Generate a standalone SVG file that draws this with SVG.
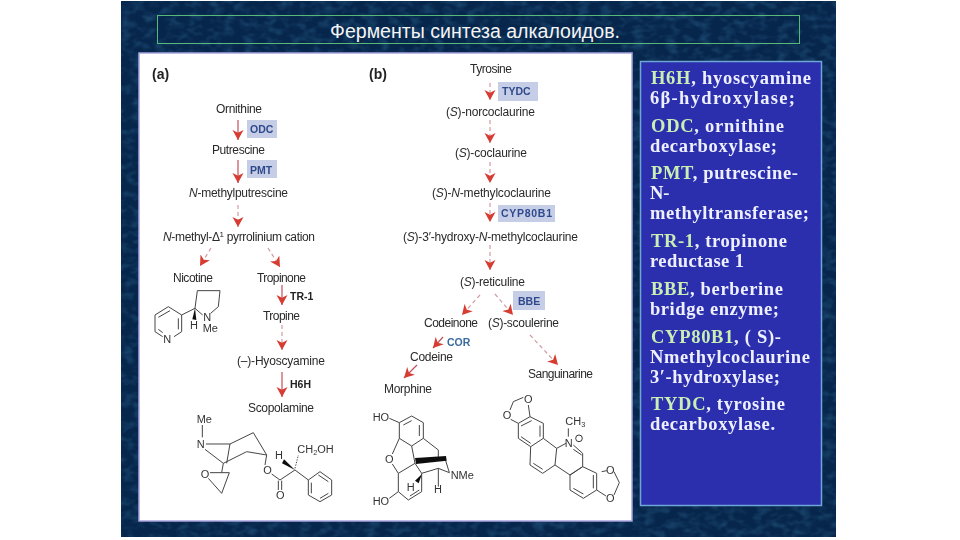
<svg xmlns="http://www.w3.org/2000/svg" width="960" height="540" viewBox="0 0 960 540">
<defs>
<marker id="ah" markerUnits="userSpaceOnUse" markerWidth="12" markerHeight="12" refX="10" refY="5.500" orient="auto"><path d="M0 0L10 5.500L0 11L2.800 5.500Z" fill="#d63c32"/></marker>
<filter id="tex" x="0" y="0" width="100%" height="100%"><feTurbulence type="fractalNoise" baseFrequency="0.09 0.14" numOctaves="2" seed="4"/><feColorMatrix values="0 0 0 0 0.05  0 0 0 0 0.25  0 0 0 0 0.45  0 0 0 0.7 -0.3"/></filter>
<filter id="soft" x="-5%" y="-5%" width="110%" height="110%"><feGaussianBlur stdDeviation="0.35"/></filter>
</defs>
<style>
.l{font-family:"Liberation Sans",Arial,sans-serif;font-size:12px;fill:#2a2a2a}
.i{font-style:italic}
.e{font-family:"Liberation Sans",Arial,sans-serif;font-size:10.5px;font-weight:bold;fill:#2f4a8c}
.b{fill:#c6cde6}
.k{font-family:"Liberation Sans",Arial,sans-serif;font-size:10.5px;font-weight:bold;fill:#222}
.p{font-family:"Liberation Sans",Arial,sans-serif;font-size:14px;font-weight:bold;fill:#222}
.a{stroke:#c4505c;stroke-width:1.2;fill:none;marker-end:url(#ah)}
.d{stroke:#d29aa0;stroke-width:1.2;fill:none;stroke-dasharray:4 3;marker-end:url(#ah)}
.m path{fill:none;stroke:#444;stroke-width:3}
.m .w{fill:#111;stroke:none}
.m text{font-family:"Liberation Sans",Arial,sans-serif;font-size:33px;fill:#333}
.t{font-family:"Liberation Serif","Times New Roman",serif;font-size:18.5px;font-weight:bold;fill:#eef0ff}
.g{fill:#c9efb4}
</style>
<rect width="960" height="540" fill="#fff"/>
<g id="slide">
<rect x="121" y="1" width="715" height="536" fill="#07264c"/>
<rect x="121" y="1" width="715" height="536" filter="url(#tex)"/>
</g>
<g id="title">
<rect x="157.500" y="15.500" width="642" height="28" fill="none" stroke="#58b878"/>
<text x="330" y="38" font-family="'Liberation Sans',Arial,sans-serif" font-size="19.5" fill="#f4f4f4" textLength="290" lengthAdjust="spacingAndGlyphs">Ферменты синтеза алкалоидов.</text>
</g>
<rect id="figure-panel" x="139" y="53" width="493" height="468" fill="#fff" stroke="#a9a4de" stroke-width="1.500"/>
<g id="legend-panel">
<rect x="640.500" y="61.500" width="181" height="444" fill="#2b2fae" stroke="#6fa6d8" stroke-width="1.500"/>
<g filter="url(#soft)">
<text class="t" x="651" y="84" textLength="160"><tspan class="g">H6H</tspan>, hyoscyamine</text>
<text class="t" x="650" y="104" textLength="145">6β-hydroxylase;</text>
<text class="t" x="651" y="132" textLength="133"><tspan class="g">ODC</tspan>, ornithine</text>
<text class="t" x="650" y="152" textLength="127">decarboxylase;</text>
<text class="t" x="651" y="179" textLength="147"><tspan class="g">PMT</tspan>, putrescine-</text>
<text class="t" x="650" y="199">N-</text>
<text class="t" x="650" y="219" textLength="159">methyltransferase;</text>
<text class="t" x="651" y="247" textLength="136"><tspan class="g">TR-1</tspan>, tropinone</text>
<text class="t" x="650" y="267" textLength="94">reductase 1</text>
<text class="t" x="651" y="295" textLength="132"><tspan class="g">BBE</tspan>, berberine</text>
<text class="t" x="650" y="315" textLength="129">bridge enzyme;</text>
<text class="t" x="651" y="343" textLength="130"><tspan class="g">CYP80B1</tspan>, ( S)-</text>
<text class="t" x="650" y="363" textLength="160">Nmethylcoclaurine</text>
<text class="t" x="650" y="383" textLength="130">3′-hydroxylase;</text>
<text class="t" x="651" y="410" textLength="134"><tspan class="g">TYDC</tspan>, tyrosine</text>
<text class="t" x="650" y="430" textLength="125">decarboxylase.</text>
</g>
</g>
<g id="connectors">
<path class="a" d="M238 120V140"/>
<path class="a" d="M238 160V183"/>
<path class="d" d="M238 205V227"/>
<path class="d" d="M211 248L200 266"/>
<path class="d" d="M268 248L280 267"/>
<path class="a" d="M282 285V305"/>
<path class="d" d="M282 325V350"/>
<path class="a" d="M282 372V397"/>
<path class="d" d="M490 83V100"/>
<path class="d" d="M490 120V143"/>
<path class="d" d="M490 162V183"/>
<path class="d" d="M490 203V222"/>
<path class="d" d="M490 245V270"/>
<path class="d" d="M480 295L462 315"/>
<path class="d" d="M495 294L513 315"/>
<path class="a" d="M443 337L433 348"/>
<path class="a" d="M417 365L404 378"/>
<path class="d" d="M530 335L558 365"/>
</g>
<g id="pathway-a" filter="url(#soft)">
<text class="p" x="152" y="79">(a)</text>
<g id="ornithine"><text class="l" x="216" y="113" textLength="46">Ornithine</text></g>
<g id="odc"><rect class="b" x="247" y="120" width="30" height="18"/><text class="e" x="250" y="133">ODC</text></g>
<g id="putrescine"><text class="l" x="212" y="154" textLength="53">Putrescine</text></g>
<g id="pmt"><rect class="b" x="247" y="160" width="30" height="18"/><text class="e" x="250" y="174">PMT</text></g>
<g id="n-methylputrescine"><text class="l" x="189" y="197" textLength="99"><tspan class="i">N</tspan>-methylputrescine</text></g>
<g id="pyrrolinium"><text class="l" x="163" y="241" textLength="152"><tspan class="i">N</tspan>-methyl-Δ<tspan dy="-4" font-size="8">1</tspan><tspan dy="4"> pyrrolinium cation</tspan></text></g>
<g id="nicotine"><text class="l" x="173" y="282" textLength="40">Nicotine</text></g>
<g id="tropinone"><text class="l" x="257" y="282" textLength="49">Tropinone</text></g>
<g id="tr-1"><text class="k" x="290" y="300">TR-1</text></g>
<g id="tropine"><text class="l" x="263" y="320" textLength="37">Tropine</text></g>
<g id="hyoscyamine"><text class="l" x="237" y="365" textLength="88">(–)-Hyoscyamine</text></g>
<g id="h6h"><text class="k" x="290" y="388">H6H</text></g>
<g id="scopolamine"><text class="l" x="248" y="412" textLength="66">Scopolamine</text></g>
</g>
<g id="pathway-b" filter="url(#soft)">
<text class="p" x="369" y="79">(b)</text>
<g id="tyrosine"><text class="l" x="470" y="73" textLength="42">Tyrosine</text></g>
<g id="tydc"><rect class="b" x="498" y="82" width="40" height="19"/><text class="e" x="502" y="95">TYDC</text></g>
<g id="norcoclaurine"><text class="l" x="446" y="116" textLength="89">(<tspan class="i">S</tspan>)-norcoclaurine</text></g>
<g id="coclaurine"><text class="l" x="455" y="157" textLength="72">(<tspan class="i">S</tspan>)-coclaurine</text></g>
<g id="n-methylcoclaurine"><text class="l" x="432" y="197" textLength="119">(<tspan class="i">S</tspan>)-<tspan class="i">N</tspan>-methylcoclaurine</text></g>
<g id="cyp80b1"><rect class="b" x="498" y="205" width="57" height="17"/><text class="e" x="501" y="217" textLength="51">CYP80B1</text></g>
<g id="hydroxy"><text class="l" x="403" y="241" textLength="175">(<tspan class="i">S</tspan>)-3′-hydroxy-<tspan class="i">N</tspan>-methylcoclaurine</text></g>
<g id="reticuline"><text class="l" x="460" y="286" textLength="65">(<tspan class="i">S</tspan>)-reticuline</text></g>
<g id="bbe"><rect class="b" x="513" y="291" width="32" height="19"/><text class="e" x="518" y="305">BBE</text></g>
<g id="codeinone"><text class="l" x="424" y="327" textLength="54">Codeinone</text></g>
<g id="scoulerine"><text class="l" x="488" y="327" textLength="71">(<tspan class="i">S</tspan>)-scoulerine</text></g>
<g id="cor"><text class="e" x="447" y="346" style="fill:#3a6a9c">COR</text></g>
<g id="codeine"><text class="l" x="410" y="361" textLength="43">Codeine</text></g>
<g id="morphine"><text class="l" x="384" y="393" textLength="48">Morphine</text></g>
<g id="sanguinarine"><text class="l" x="528" y="378" textLength="65">Sanguinarine</text></g>
</g>
<g id="mol-a" class="m" transform="translate(140 290) scale(.33333)" filter="url(#soft)">
<path d="M125 75L85 50L45 75V125L68 140M102 140L125 125V75M125 75L165 55M90 62L55 82M115 85V118M55 118L68 128M165 55L172 2M172 2H240M240 2L235 50L212 70M165 55L188 75"/>
<path class="w" d="M165 55L157 88L169 90Z"/>
<text x="70" y="160">N</text><text x="190" y="92">N</text><text x="150" y="118">H</text><text x="188" y="125" font-size="30">Me</text>
<path d="M187 405V442M198 462H270L340 428L380 495L320 485L250 520L195 478M270 462L260 520M210 548H268M205 565L245 610L268 548M250 520L245 548M380 495L375 525M395 552L420 570M415 572V600M425 572V600M420 570L465 540M465 540L505 570L540 545L575 570V615L540 635L505 615V570M535 555L565 575M565 610L540 625M514 610V578"/>
<path class="w" d="M465 540L432 508L426 520Z"/>
<path d="M465 535L475 495" stroke-dasharray="4 4"/>
<text x="170" y="400">Me</text><text x="170" y="474">N</text><text x="182" y="564">O</text><text x="370" y="552">O</text><text x="408" y="628">O</text><text x="405" y="508">H</text><text x="472" y="490" font-size="31">CH<tspan dy="5" font-size="22">2</tspan><tspan dy="-5">OH</tspan></text>
</g>
<g id="mol-b1" class="m" transform="translate(360 290) scale(.33333)" filter="url(#soft)">
<path d="M88 385L118 398L155 378L190 398V445L155 468L118 445V398M130 405L155 392M178 405V438M118 445L97 492M97 522L115 550L165 520L155 468M190 445L235 480V505M115 550V605L145 630L185 605V550L165 520M150 618L178 600M185 550L235 535L268 548M235 535V590M115 605L88 625M255 505L268 548"/>
<path class="w" d="M165 504L258 498L260 512L168 522Z"/>
<path class="w" d="M186 552L165 572L176 580Z"/>
<text x="38" y="393">HO</text><text x="75" y="520">O</text><text x="272" y="568">NMe</text><text x="140" y="602">H</text><text x="222" y="610">H</text><text x="38" y="645">HO</text>
</g>
<g id="mol-b2" class="m" transform="translate(360 290) scale(.33333)" filter="url(#soft)">
<path d="M510 380L550 400V445L512 470L475 445V400L510 380M540 407V440M512 460L483 440M515 392L483 408M550 445L590 475L585 525L548 550L510 525L512 470M520 520L548 538M590 475L618 460M640 465L668 490V530L630 555L585 525M640 478L665 495M668 530L710 550V600L670 625L630 600V555L668 530M640 595L670 612M700 555V595M625 415V440M475 400L452 388M510 380L505 345M490 322L460 335L450 360M725 545L740 542M710 600L738 618M762 545L778 578L762 615"/>
<circle cx="657" cy="445" r="10" fill="none" stroke="#333" stroke-width="3"/>
<text x="492" y="340">O</text><text x="428" y="388">O</text><text x="616" y="405" font-size="30">CH<tspan dy="5" font-size="22">3</tspan></text><text x="614" y="470">N</text><text x="738" y="553">O</text><text x="738" y="636">O</text>
</g>
</svg>
